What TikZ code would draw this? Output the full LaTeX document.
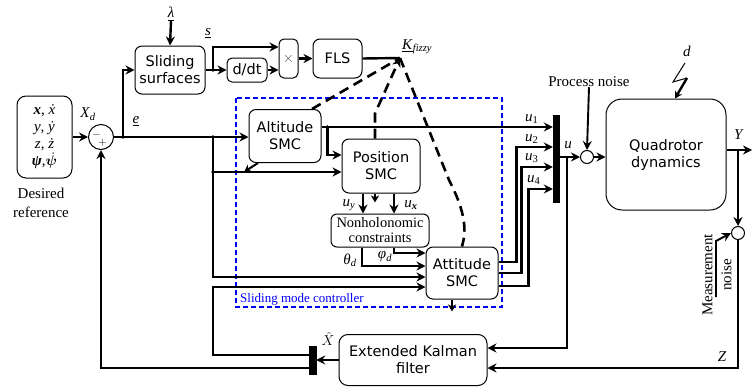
\documentclass[tikz,border=0pt]{standalone}
\usepackage{fontspec}
\usepackage{amsmath,bm}
\setmainfont{Liberation Serif}
\setsansfont{DejaVu Sans}
\usetikzlibrary{arrows.meta,calc}
\newcommand{\mi}[1]{\textit{#1}}
\newcommand{\sbi}[1]{\textsubscript{\textit{#1}}}
\begin{document}
\begin{tikzpicture}[x=1pt,y=-1pt,
 blk/.style={draw,line width=1pt,rounded corners=7pt,align=center,font=\sffamily\fontsize{14.5}{17}\selectfont,inner sep=0pt},
 wire/.style={line width=2.4pt},
 twire/.style={line width=1.9pt},
 arr/.style={wire,-{Stealth[length=9pt,width=9pt,inset=3pt]}},
 tarr/.style={twire,-{Stealth[length=9pt,width=9pt,inset=3pt]}},
 dsh/.style={line width=2.6pt,dash pattern=on 10pt off 6pt},
 sarr/.style={line width=2pt,-{Stealth[length=7pt,width=8pt,inset=2pt]}},
 lbl/.style={font=\fontsize{15}{17}\selectfont,inner sep=0pt},
 jdot/.style={circle,fill,inner sep=1.3pt},
 bar/.style={fill,draw,inner sep=0pt}]
\useasboundingbox (0,0) rectangle (752,391);

% blocks
\node[blk,rounded corners=9pt,minimum width=55pt,minimum height=82pt,font=\fontsize{15}{17}\selectfont] (ref) at (44.5,137)
  {\textbf{\mi{x}}, \mi{ẋ}\\ \mi{y}, \mi{ẏ}\\ \mi{z}, \mi{ż}\\ \textbf{\mi{ψ}},$\dot{\bm{\psi}}$};
\node[lbl,align=center,font=\fontsize{15}{19}\selectfont] (desc) at (41,203) {Desired\\reference};
\node[draw,circle,line width=1pt,minimum size=25pt,inner sep=0pt] (sum) at (101,137) {};
\node[font=\fontsize{11}{11}\selectfont,inner sep=0pt] at (96.5,135) {$-$};
\node[font=\fontsize{11}{11}\selectfont,inner sep=0pt] at (102.5,142.5) {$+$};
\node[blk,minimum width=70pt,minimum height=48pt] (sl) at (170,70) {Sliding\\surfaces};
\node[blk,rounded corners=5pt,minimum width=40pt,minimum height=24pt] (ddt) at (247,70) {d/dt};
\node[blk,rounded corners=5pt,minimum width=19pt,minimum height=39pt,font=\sffamily\fontsize{14}{14}\selectfont,text=black!70] (mul) at (288.5,58.5) {$\times$};
\node[blk,minimum width=49pt,minimum height=39pt] (fls) at (337.5,58.5) {FLS};
\node[blk,minimum width=72pt,minimum height=53pt] (alt) at (285,136) {Altitude\\SMC};
\node[blk,minimum width=78pt,minimum height=54pt] (pos) at (381,166) {Position\\SMC};
\node[blk,rounded corners=6pt,minimum width=98pt,minimum height=33pt,font=\fontsize{14.5}{15}\selectfont] (non) at (380,230.5) {Nonholonomic\\constraints};
\node[blk,minimum width=72pt,minimum height=52pt] (att) at (462,273) {Attitude\\SMC};
\node[blk,rounded corners=16pt,minimum width=120pt,minimum height=111pt] (quad) at (666,154.5) {Quadrotor\\dynamics};
\node[blk,rounded corners=9pt,minimum width=148pt,minimum height=51pt] (ekf) at (413,360) {Extended Kalman\\filter};
\node[bar,minimum width=6pt,minimum height=87pt] (bar1) at (556,158.5) {};
\node[bar,minimum width=7pt,minimum height=28pt] (bar2) at (312.5,360) {};
\node[draw,circle,line width=1pt,minimum size=13pt,inner sep=0pt] (ps) at (587,157) {};
\node[draw,circle,line width=1pt,minimum size=13pt,inner sep=0pt] (ms) at (738,233) {};

% sliding mode controller frame
\draw[blue,line width=1.3pt,dash pattern=on 5pt off 3pt] (236,98) rectangle (502,307);
\node[blue,anchor=base west,inner sep=0pt,font=\fontsize{13}{13}\selectfont] at (240,302) {Sliding mode controller};

% labels
\node[lbl] at (88,114) {\mi{X}\sbi{d}};
\node[lbl] at (136,121) {\underline{\mi{e}}};
\node[lbl] (lam) at (171,14) {\underline{\mi{λ}}};
\node[lbl] at (208,33) {\underline{\mi{s}}};
\node[lbl,anchor=west] at (402,47) {\underline{\mi{K}}\sbi{fizzy}};
\node[lbl] at (349,205) {\mi{u}\sbi{y}};
\node[lbl] at (411,205) {\mi{u}\textsubscript{\textbf{\mi{x}}}};
\node[lbl] at (350,260) {\mi{θ}\sbi{d}};
\node[lbl] at (385,257) {\mi{φ}\sbi{d}};
\node[lbl,anchor=base west] at (525,121) {\mi{u}\textsubscript{1}};
\node[lbl,anchor=base west] at (525,141) {\mi{u}\textsubscript{2}};
\node[lbl,anchor=base west] at (525,160) {\mi{u}\textsubscript{3}};
\node[lbl,anchor=base west] at (527,182) {\mi{u}\textsubscript{4}};
\node[lbl] at (568,145) {\mi{u}};
\node[lbl] (pn) at (589,82) {Process noise};
\node[lbl] at (687,51) {\mi{d}};
\node[lbl] at (739,135) {\mi{Y}};
\node[lbl] at (722,357) {\mi{Z}};
\node[lbl] at (328,339) {$\hat{X}$};
\node[lbl,rotate=90,align=center,font=\fontsize{15}{19}\selectfont] at (717,275) {Measurement\\noise};

% coordinates
\coordinate (jA) at (123,137);
\coordinate (js) at (213,70);
\coordinate (jB) at (213,137);
\coordinate (jB2) at (213,172);
\coordinate (jC) at ([xshift=6pt,yshift=9pt]alt.east);
\coordinate (K) at (400,58);
\coordinate (jU) at (567,157);
\coordinate (jY) at (738,150);
\coordinate (Yend) at (752,150);
\coordinate (mn) at (716,297);
\coordinate (fbL) at (213,355);

% connectors
\draw[arr] (ref.east) -- (sum.west);
\draw[arr] (sum.east) -- (sum.east -| alt.west);
\draw[arr] (jA) |- (sl.west);
\draw[arr] (lam.south) -- (sl.north);
\draw[wire] (sl.east) -- (js);
\draw[arr] (js) -- (ddt.west);
\draw[arr] (js) |- ([yshift=11.5pt]mul.west);
\draw[arr] (ddt.east) -- ([yshift=-11.5pt]mul.west);
\draw[arr] (mul.east) -- (fls.west);
\draw[wire] (fls.east) -- (K);
\draw[arr] (jB) |- ([yshift=-6pt]pos.west);
\draw[arr] (jB2) |- ([yshift=-4pt]att.west);
\draw[arr] ([yshift=5pt]bar2.west) -- (fbL) |- ([yshift=-14pt]att.west);
\draw[arr] ([yshift=-8pt]bar2.west) -| (sum.south);
\draw[arr] (ekf.west) -- (bar2.east);
\draw[arr] ([yshift=9pt]alt.east) -- ([yshift=9pt]alt.east -| bar1.west);
\draw[arr] (jC) |- ([yshift=11pt]pos.west);
\draw[arr] ([xshift=-18pt]pos.south) -- ([xshift=-18pt]pos.south |- non.north);
\draw[arr] ([xshift=13pt]pos.south) -- ([xshift=13pt]pos.south |- non.north);
\draw[arr] ([xshift=14pt]non.south) |- ([yshift=20pt]att.west);
\draw[arr] ([xshift=-18pt]non.south) |- ([yshift=7pt]att.west);
\draw[arr] ([yshift=11pt]att.east) -- ++(18,0) |- ([yshift=11.5pt]bar1.west);
\draw[arr] (att.east) -- ++(23,0) |- ([yshift=-8.5pt]bar1.west);
\draw[arr] ([yshift=-13pt]att.east) -- ++(30,0) |- ([yshift=-30.5pt]bar1.west);
\draw[arr] (bar1.east |- ps) -- (ps.west);
\draw[tarr] (jU) |- ([yshift=12pt]ekf.east);
\draw[tarr] (pn.south) -- (ps.north);
\draw[arr] (ps.east) -- (ps.east -| quad.west);
\draw[arr] ([yshift=4.5pt]quad.east) -- (Yend);
\draw[tarr] (jY) -- (ms.north);
\draw[tarr] (mn) -- (716,241) -- (ms.west);
\draw[tarr] (ms.south) |- ([yshift=-8pt]ekf.east);
% disturbance
\draw[line width=1pt] (685,63) -- (673,82) -- (687,78);
\draw[sarr,line width=2.4pt] (687,78) -- (quad.north -| 675,0);

% fuzzy gain (dashed)
\draw[dsh] ([xshift=27pt]alt.north) -- (K);
\draw[dsh,-{Stealth[length=9pt,width=9pt,inset=3pt]}] ([xshift=-6pt]pos.north) -- ++(0,-25) -- (K);
\draw[dsh] (K) -- (449,180) .. controls (467,215) and (466,232) .. (att.north);
\draw[sarr] ([xshift=-27pt]alt.south) -- ++(-14,9);
\draw[sarr] ([xshift=-6pt]pos.south) -- ++(0,9);
\draw[sarr] ([xshift=-10pt]att.south) -- ++(0,12);

% junction dots
\foreach \p in {jA,js,jB,jB2,jC} \node[jdot] at (\p) {};
\end{tikzpicture}
\end{document}
